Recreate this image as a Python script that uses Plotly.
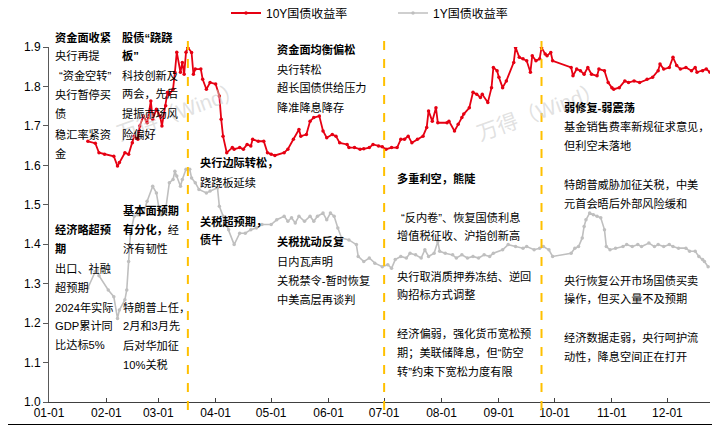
import plotly.graph_objects as go

# ---------------- data ----------------
dates_10y = [
    "2025-01-22", "2025-01-26", "2025-01-28", "2025-01-31", "2025-02-05", "2025-02-07", "2025-02-08",
    "2025-02-11", "2025-02-13", "2025-02-15", "2025-02-16", "2025-02-18", "2025-02-19", "2025-02-21",
    "2025-02-23", "2025-02-25", "2025-02-26", "2025-02-28", "2025-03-02", "2025-03-03", "2025-03-05",
    "2025-03-06", "2025-03-07", "2025-03-09", "2025-03-10", "2025-03-11", "2025-03-13", "2025-03-14",
    "2025-03-15", "2025-03-16", "2025-03-17", "2025-03-19", "2025-03-20", "2025-03-21", "2025-03-24",
    "2025-03-25", "2025-03-27", "2025-03-29", "2025-04-01", "2025-04-03", "2025-04-04", "2025-04-05",
    "2025-04-07", "2025-04-10", "2025-04-11", "2025-04-14", "2025-04-16", "2025-04-18", "2025-04-20",
    "2025-04-21", "2025-04-24", "2025-04-27", "2025-04-29", "2025-05-01", "2025-05-03", "2025-05-08",
    "2025-05-10", "2025-05-13", "2025-05-16", "2025-05-17", "2025-05-20", "2025-05-22", "2025-05-24",
    "2025-05-27", "2025-05-29", "2025-05-31", "2025-06-03", "2025-06-05", "2025-06-07", "2025-06-11",
    "2025-06-12", "2025-06-15", "2025-06-18", "2025-06-20", "2025-06-23", "2025-06-25", "2025-06-28",
    "2025-06-30", "2025-07-02", "2025-07-05", "2025-07-08", "2025-07-10", "2025-07-12", "2025-07-14",
    "2025-07-16", "2025-07-19", "2025-07-22", "2025-07-24", "2025-07-25", "2025-07-27", "2025-07-29",
    "2025-07-30", "2025-08-04", "2025-08-05", "2025-08-08", "2025-08-10", "2025-08-12", "2025-08-13",
    "2025-08-16", "2025-08-18", "2025-08-20", "2025-08-22", "2025-08-23", "2025-08-26", "2025-08-28",
    "2025-08-29", "2025-08-31", "2025-09-01", "2025-09-03", "2025-09-05", "2025-09-09", "2025-09-10",
    "2025-09-12", "2025-09-14", "2025-09-16", "2025-09-18", "2025-09-19", "2025-09-21", "2025-09-23",
    "2025-09-24", "2025-09-26", "2025-09-27", "2025-09-29", "2025-09-30", "2025-10-10", "2025-10-11",
    "2025-10-13", "2025-10-15", "2025-10-17", "2025-10-19", "2025-10-21", "2025-10-24", "2025-10-25",
    "2025-10-28", "2025-10-30", "2025-11-01", "2025-11-02", "2025-11-05", "2025-11-08", "2025-11-10",
    "2025-11-13", "2025-11-16", "2025-11-20", "2025-11-23", "2025-11-26", "2025-11-27", "2025-11-29",
    "2025-12-02", "2025-12-04", "2025-12-06", "2025-12-08", "2025-12-11", "2025-12-14", "2025-12-16",
    "2025-12-17", "2025-12-20", "2025-12-22", "2025-12-24",
]
yield_10y = [
    1.661, 1.656, 1.632, 1.628, 1.623, 1.598, 1.607,
    1.632, 1.628, 1.657, 1.674, 1.666, 1.700, 1.725,
    1.708, 1.763, 1.717, 1.742, 1.725, 1.700, 1.751,
    1.785, 1.780, 1.793, 1.836, 1.887, 1.836, 1.861,
    1.831, 1.887, 1.899, 1.886, 1.831, 1.844, 1.844,
    1.818, 1.793, 1.810, 1.806, 1.776, 1.717, 1.674,
    1.632, 1.645, 1.641, 1.645, 1.641, 1.653, 1.649,
    1.666, 1.661, 1.661, 1.632, 1.628, 1.625, 1.632,
    1.641, 1.666, 1.691, 1.674, 1.678, 1.712, 1.721,
    1.725, 1.687, 1.670, 1.678, 1.674, 1.657, 1.653,
    1.645, 1.645, 1.641, 1.642, 1.645, 1.653, 1.649,
    1.647, 1.641, 1.645, 1.645, 1.666, 1.666, 1.674,
    1.657, 1.666, 1.674, 1.696, 1.738, 1.712, 1.746,
    1.708, 1.708, 1.712, 1.687, 1.704, 1.721, 1.730,
    1.746, 1.785, 1.780, 1.772, 1.780, 1.759, 1.797,
    1.848, 1.840, 1.823, 1.797, 1.814, 1.861, 1.899,
    1.874, 1.870, 1.865, 1.836, 1.878, 1.865, 1.870,
    1.899, 1.882, 1.878, 1.886, 1.865, 1.848, 1.827,
    1.844, 1.840, 1.831, 1.848, 1.831, 1.827, 1.844,
    1.840, 1.810, 1.797, 1.793, 1.797, 1.814, 1.810,
    1.814, 1.810, 1.818, 1.823, 1.840, 1.857, 1.844,
    1.848, 1.874, 1.853, 1.844, 1.848, 1.840, 1.848,
    1.836, 1.840, 1.844, 1.836,
]

dates_1y = [
    "2025-01-22", "2025-01-26", "2025-01-27", "2025-01-28", "2025-02-02", "2025-02-05", "2025-02-07",
    "2025-02-08", "2025-02-11", "2025-02-12", "2025-02-13", "2025-02-14", "2025-02-16", "2025-02-18",
    "2025-02-21", "2025-02-23", "2025-02-26", "2025-02-28", "2025-03-02", "2025-03-03", "2025-03-05",
    "2025-03-07", "2025-03-09", "2025-03-10", "2025-03-11", "2025-03-13", "2025-03-14", "2025-03-16",
    "2025-03-18", "2025-03-19", "2025-03-21", "2025-03-23", "2025-03-27", "2025-03-29", "2025-04-02",
    "2025-04-03", "2025-04-05", "2025-04-06", "2025-04-08", "2025-04-11", "2025-04-14", "2025-04-17",
    "2025-04-20", "2025-04-23", "2025-04-26", "2025-05-01", "2025-05-04", "2025-05-08", "2025-05-10",
    "2025-05-12", "2025-05-14", "2025-05-16", "2025-05-19", "2025-05-22", "2025-05-24", "2025-05-26",
    "2025-05-29", "2025-05-31", "2025-06-02", "2025-06-04", "2025-06-06", "2025-06-08", "2025-06-12",
    "2025-06-16", "2025-06-17", "2025-06-20", "2025-06-23", "2025-06-26", "2025-06-30", "2025-07-03",
    "2025-07-05", "2025-07-07", "2025-07-10", "2025-07-13", "2025-07-15", "2025-07-18", "2025-07-21",
    "2025-07-23", "2025-07-25", "2025-07-28", "2025-07-30", "2025-07-31", "2025-08-03", "2025-08-07",
    "2025-08-09", "2025-08-12", "2025-08-15", "2025-08-18", "2025-08-21", "2025-08-24", "2025-08-27",
    "2025-08-29", "2025-09-03", "2025-09-06", "2025-09-10", "2025-09-14", "2025-09-16", "2025-09-20",
    "2025-09-23", "2025-09-25", "2025-09-28", "2025-09-30", "2025-10-10", "2025-10-12", "2025-10-14",
    "2025-10-16", "2025-10-17", "2025-10-18", "2025-10-20", "2025-10-22", "2025-10-24", "2025-10-26",
    "2025-10-28", "2025-10-29", "2025-10-31", "2025-11-03", "2025-11-07", "2025-11-09", "2025-11-12",
    "2025-11-15", "2025-11-17", "2025-11-21", "2025-11-24", "2025-11-26", "2025-11-29", "2025-12-02",
    "2025-12-04", "2025-12-07", "2025-12-11", "2025-12-13", "2025-12-16", "2025-12-18", "2025-12-20",
    "2025-12-21", "2025-12-23",
]
yield_1y = [
    1.289, 1.331, 1.335, 1.320, 1.284, 1.267, 1.212,
    1.233, 1.259, 1.284, 1.356, 1.428, 1.471, 1.475,
    1.479, 1.509, 1.547, 1.530, 1.475, 1.475, 1.488,
    1.556, 1.564, 1.585, 1.573, 1.547, 1.564, 1.590,
    1.590, 1.568, 1.556, 1.539, 1.530, 1.535, 1.543,
    1.496, 1.471, 1.458, 1.437, 1.399, 1.428, 1.428,
    1.437, 1.441, 1.450, 1.450, 1.462, 1.471, 1.458,
    1.467, 1.454, 1.471, 1.458, 1.471, 1.458, 1.471,
    1.479, 1.462, 1.479, 1.471, 1.441, 1.416, 1.411,
    1.399, 1.369, 1.356, 1.365, 1.352, 1.343, 1.348,
    1.339, 1.361, 1.369, 1.365, 1.377, 1.373, 1.365,
    1.386, 1.369, 1.377, 1.407, 1.382, 1.377, 1.373,
    1.365, 1.373, 1.365, 1.369, 1.365, 1.373, 1.369,
    1.377, 1.386, 1.399, 1.394, 1.390, 1.394, 1.386,
    1.390, 1.394, 1.386, 1.369, 1.377, 1.390, 1.394,
    1.416, 1.445, 1.462, 1.479, 1.475, 1.471, 1.467,
    1.437, 1.394, 1.386, 1.390, 1.394, 1.399, 1.394,
    1.399, 1.394, 1.403, 1.394, 1.399, 1.394, 1.399,
    1.394, 1.390, 1.390, 1.382, 1.382, 1.369, 1.361,
    1.356, 1.343,
]

series_names = ["10Y国债收益率", "1Y国债收益率"]
event_dates = ["2025-03-17", "2025-07-01", "2025-09-24"]
y_tick_values = [1.0, 1.1, 1.2, 1.3, 1.4, 1.5, 1.6, 1.7, 1.8, 1.9]
x_range = ["2025-01-01", "2025-12-24"]

# ---------------- layout helpers ----------------
# The page body has an 8px margin, so the figure is drawn 8px smaller and
# every page position is shifted by that offset.
OFF = 8
W, H = 720 - OFF, 426 - OFF
PLOT_L, PLOT_R, PLOT_T, PLOT_B = 49, 710, 47, 402   # page pixel positions
L, T = PLOT_L - OFF, PLOT_T - OFF
R, B = W - (PLOT_R - OFF), H - (PLOT_B - OFF)
PW, PH = PLOT_R - PLOT_L, PLOT_B - PLOT_T


def px(x, y):
    """page pixel -> paper coordinates"""
    return (x - PLOT_L) / PW, (PLOT_B - y) / PH


FONT_TXT = "Liberation Sans, Noto Sans CJK SC, sans-serif"

fig = go.Figure()
fig.add_trace(go.Scatter(
    x=dates_10y, y=yield_10y, name=series_names[0], mode="lines+markers",
    line=dict(color="#E60012", width=1.8), marker=dict(size=3.5, color="#E60012"),
))
fig.add_trace(go.Scatter(
    x=dates_1y, y=yield_1y, name=series_names[1], mode="lines+markers",
    line=dict(color="#BFBFBF", width=1.6), marker=dict(size=3.5, color="#BFBFBF"),
))

shapes = []
_, ytop = px(0, 38)
_, ybot = px(0, 410)
for d in event_dates:
    shapes.append(dict(type="line", xref="x", yref="paper", x0=d, x1=d, y0=ybot, y1=ytop,
                       line=dict(color="#FFC000", width=2, dash="dash")))
# outer frame pieces (bottom and right)
bx0, by = px(OFF, 424.5)
bx1, _ = px(719, 0)
rx, ry1 = px(718, OFF)
shapes.append(dict(type="line", xref="paper", yref="paper", x0=bx0, x1=bx1, y0=by, y1=by,
                   line=dict(color="#000000", width=1)))
shapes.append(dict(type="line", xref="paper", yref="paper", x0=rx, x1=rx, y0=by, y1=ry1,
                   line=dict(color="#000000", width=1)))

# text annotations: (text, left x px, centre y px) in page pixels
texts = [
    ("<b>资金面收紧</b>", 53, 37), ("央行再提", 53, 56), ("“资金空转”", 57, 75),
    ("央行暂停买", 53, 94), ("债", 53, 114), ("稳汇率紧资", 53, 134), ("金", 53, 153),
    ("<b>股债“跷跷</b>", 120, 37), ("<b>板”</b>", 120, 56), ("科技创新及", 120, 75),
    ("两会，先后", 120, 94), ("提振市场风", 120, 114), ("险偏好", 120, 134),
    ("<b>央行边际转松，</b>", 197.5, 162), ("跷跷板延续", 197.5, 182),
    ("<b>关税超预期，</b>", 197.5, 221), ("<b>债牛</b>", 197.5, 240),
    ("<b>资金面均衡偏松</b>", 275, 49), ("央行转松", 275, 69), ("超长国债供给压力", 275, 88),
    ("降准降息降存", 275, 107),
    ("<b>关税扰动反复</b>", 275, 242), ("日内瓦声明", 275, 261), ("关税禁令-暂时恢复", 275, 280),
    ("中美高层再谈判", 275, 299),
    ("<b>基本面预期</b>", 121, 210), ("<b>有分化，</b>经", 121, 229), ("济有韧性", 121, 248),
    ("<b>经济略超预</b>", 53, 229), ("<b>期</b>", 53, 248), ("出口、社融", 53, 268),
    ("超预期", 53, 287), ("2024年实际", 53, 307), ("GDP累计同", 53, 326), ("比达标5%", 53, 345),
    ("特朗普上任，", 121, 307), ("2月和3月先", 121, 326), ("后对华加征", 121, 345), ("10%关税", 121, 364),
    ("<b>多重利空，熊陡</b>", 395, 179), ("“反内卷”、恢复国债利息", 399, 217),
    ("增值税征收、沪指创新高", 395, 236), ("央行取消质押券冻结、逆回", 395, 276),
    ("购招标方式调整", 395, 294), ("经济偏弱，强化货币宽松预", 395, 333),
    ("期；美联储降息，但“防空", 395, 352), ("转”约束下宽松力度有限", 395, 371),
    ("<b>弱修复-弱震荡</b>", 562, 107), ("基金销售费率新规征求意见，", 562, 126),
    ("但利空未落地", 562, 145), ("特朗普威胁加征关税，中美", 562, 184),
    ("元首会晤后外部风险缓和", 562, 203), ("央行恢复公开市场国债买卖", 562, 280),
    ("操作，但买入量不及预期", 562, 298), ("经济数据走弱，央行呵护流", 562, 337),
    ("动性，降息空间正在打开", 562, 356),
]

annotations = []
for wm_x, wm_y in [(180, 112), (540, 112)]:
    ax_, ay_ = px(wm_x, wm_y)
    annotations.append(dict(text="万得（Wind）", xref="paper", yref="paper", x=ax_, y=ay_,
                            showarrow=False, textangle=-20, xanchor="center", yanchor="middle",
                            font=dict(family=FONT_TXT, size=21, color="rgba(200,200,200,0.55)")))
for t, x, y in texts:
    ax_, ay_ = px(x, y)
    annotations.append(dict(text=t, xref="paper", yref="paper", x=ax_, y=ay_, showarrow=False,
                            xanchor="left", yanchor="middle",
                            font=dict(family=FONT_TXT, size=11.2, color="#000000")))

lx, ly = px(226, 13)
fig.update_layout(
    width=W, height=H,
    margin=dict(l=L, r=R, t=T, b=B, pad=0, autoexpand=False),
    paper_bgcolor="white", plot_bgcolor="white",
    font=dict(family=FONT_TXT, size=12, color="#000000"),
    showlegend=True,
    legend=dict(orientation="h", x=lx, y=ly, xanchor="left", yanchor="middle",
                font=dict(size=12), bgcolor="rgba(0,0,0,0)", itemwidth=30,
                entrywidth=122, entrywidthmode="pixels", tracegroupgap=0),
    xaxis=dict(type="date", range=x_range, tickformat="%m-%d", dtick="M1", tick0="2025-01-01",
               ticks="inside", ticklen=4, tickcolor="#404040", showgrid=False, zeroline=False,
               showline=True, linecolor="#404040", linewidth=1,
               tickfont=dict(size=12, color="#000000")),
    yaxis=dict(range=[1.0, 1.9], tickvals=y_tick_values, tickformat=".1f",
               ticks="outside", ticklen=5, tickcolor="#595959", showgrid=False, zeroline=False,
               showline=True, linecolor="#595959", linewidth=1,
               tickfont=dict(size=12, color="#000000")),
    shapes=shapes, annotations=annotations,
)

fig.write_html("out.html")
